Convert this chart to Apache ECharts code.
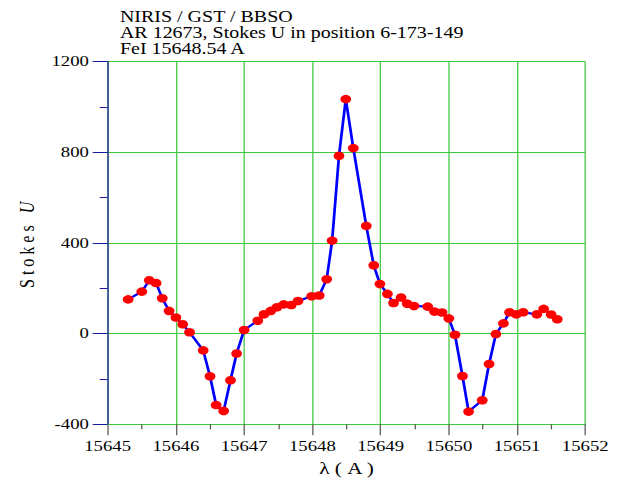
<!DOCTYPE html>
<html>
<head>
<meta charset="utf-8">
<script src="https://cdn.jsdelivr.net/npm/echarts@6.0.0/dist/echarts.min.js"></script>
<style>
  html, body { margin: 0; padding: 0; background: #fff; overflow: hidden; }
  /* the plot is laid out on a narrower canvas and widened, giving the wide-set lettering */
  #chart { width: 498px; height: 482px; transform: scaleX(1.249); transform-origin: 0 0; }
</style>
</head>
<body>
<div id="chart"></div>
<script>
// Wavelength samples (Angstrom) and the Stokes U signal measured at each
const wavelength = [
  15645.30, 15645.50, 15645.61, 15645.71, 15645.80, 15645.90, 15646.00, 15646.10,
  15646.20, 15646.40, 15646.50, 15646.59, 15646.70, 15646.80, 15646.89, 15647.00,
  15647.20, 15647.29, 15647.39, 15647.48, 15647.58, 15647.69, 15647.79, 15647.99,
  15648.10, 15648.21, 15648.29, 15648.39, 15648.49, 15648.60, 15648.79, 15648.90,
  15648.99, 15649.10, 15649.19, 15649.30, 15649.39, 15649.49, 15649.69, 15649.79,
  15649.90, 15650.00, 15650.09, 15650.20, 15650.29, 15650.49, 15650.59, 15650.69,
  15650.80, 15650.89, 15650.99, 15651.09, 15651.29, 15651.39, 15651.50, 15651.59
];
const stokesU = [
  151, 185, 235, 223, 156, 100, 71, 41,
  6, -74, -188, -315, -341, -206, -88, 16,
  57, 85, 100, 116, 129, 126, 144, 165,
  168, 240, 410, 784, 1034, 818, 475, 301,
  219, 175, 135, 159, 132, 122, 119, 97,
  93, 67, -5, -187, -344, -294, -134, -2,
  45, 94, 85, 94, 85, 109, 84, 63
];
const titleLines = ['NIRIS / GST / BBSO', 'AR 12673, Stokes U in position 6-173-149', 'FeI 15648.54 A'];
const xName = 'λ ( A )';
const yName = 'Stokes U';

const serif = '"Liberation Serif", "Times New Roman", serif';
const green = '#3dc93d';
const navy = '#1a1a9c';
const tickGrey = '#555555';

const chart = echarts.init(document.getElementById('chart'), null, { renderer: 'svg', width: 498, height: 482 });

chart.setOption({
  animation: false,
  backgroundColor: '#ffffff',
  title: {
    text: titleLines.join('\n'),
    left: 96,
    top: 9,
    padding: 0,
    textStyle: { fontFamily: serif, fontSize: 16, fontWeight: 'normal', lineHeight: 16, color: '#000' }
  },
  grid: { left: 86.2, right: 29.4, top: 61.5, bottom: 57.7 },
  xAxis: {
    type: 'value',
    min: 15645,
    max: 15652,
    interval: 1,
    name: xName,
    nameLocation: 'middle',
    nameGap: 35,
    nameTextStyle: { fontFamily: serif, fontSize: 17, color: '#000' },
    axisLine: { show: true, onZero: false, lineStyle: { color: green, width: 1 } },
    axisTick: { show: true, inside: false, length: 11, lineStyle: { color: tickGrey, width: 1 } },
    minorTick: { show: true, splitNumber: 2, length: 5, lineStyle: { color: tickGrey, width: 1 } },
    splitLine: { show: true, lineStyle: { color: green, width: 1 } },
    axisLabel: { margin: 14, fontFamily: serif, fontSize: 15, color: '#000', formatter: v => String(v) }
  },
  yAxis: {
    type: 'value',
    min: -400,
    max: 1200,
    interval: 400,
    name: yName,
    nameLocation: 'middle',
    nameRotate: 90,
    nameGap: 56,
    nameTextStyle: { fontFamily: serif, fontSize: 16, color: '#000' },
    axisLine: { show: true, onZero: false, lineStyle: { color: navy, width: 1 } },
    axisTick: { show: true, inside: false, length: 12, lineStyle: { color: navy, width: 1 } },
    minorTick: { show: true, splitNumber: 2, length: 6.4, lineStyle: { color: navy, width: 1 } },
    splitLine: { show: true, lineStyle: { color: green, width: 1 } },
    axisLabel: { margin: 15, fontFamily: serif, fontSize: 15, color: '#000', formatter: v => String(v) }
  },
  series: [{
    type: 'line',
    data: wavelength.map((w, i) => [w, stokesU[i]]),
    symbol: 'circle',
    symbolSize: 8.6,
    showSymbol: true,
    lineStyle: { color: '#0000ff', width: 2.2 },
    itemStyle: { color: '#ff0000', borderWidth: 0 },
    emphasis: { disabled: true }
  }]
});

// Spread out the vertical axis title and set its U in italics
function styleYName() {
  document.querySelectorAll('#chart svg text').forEach(t => {
    if (t.textContent === yName && !t.dataset.styled) {
      t.dataset.styled = '1';
      t.setAttribute('letter-spacing', '4px');
      t.textContent = yName.slice(0, -1);
      const u = document.createElementNS('http://www.w3.org/2000/svg', 'tspan');
      u.setAttribute('font-style', 'italic');
      u.textContent = yName.slice(-1);
      t.appendChild(u);
    }
  });
}
styleYName();
chart.on('finished', styleYName);
</script>
</body>
</html>
